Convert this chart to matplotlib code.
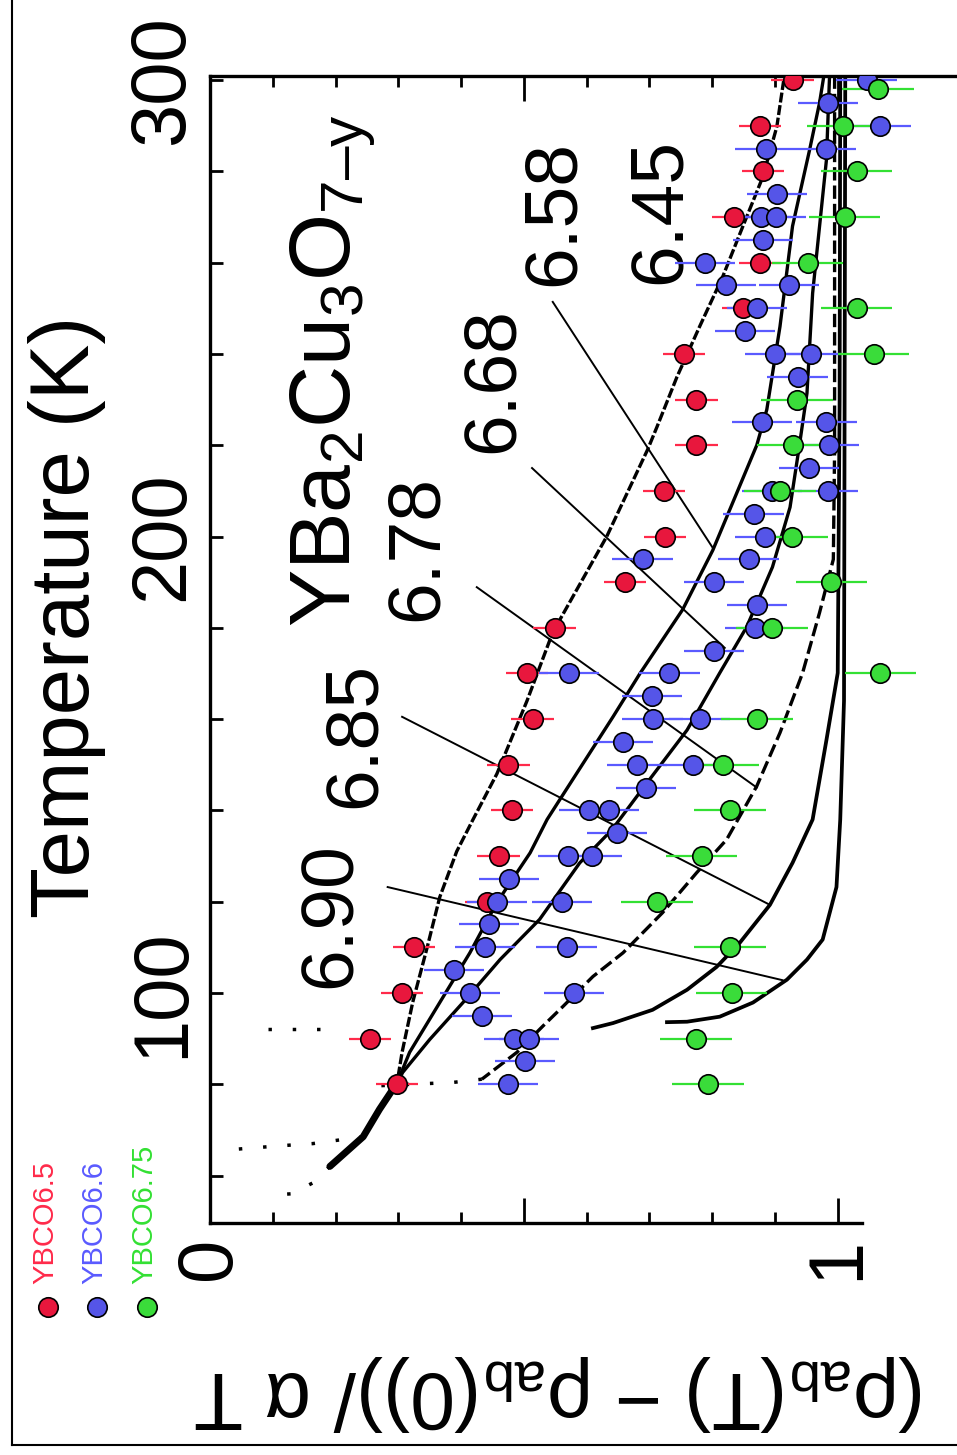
import numpy as np
import matplotlib
matplotlib.use("Agg")
import matplotlib.pyplot as plt

plt.rcParams['font.family'] = ['Liberation Sans', 'DejaVu Sans']
plt.rcParams['mathtext.fontset'] = 'custom'
plt.rcParams['mathtext.rm'] = 'Liberation Sans'
plt.rcParams['mathtext.it'] = 'Liberation Sans:italic'
plt.rcParams['mathtext.default'] = 'regular'

# measured points (value, temperature)
red_T = [300, 290, 280, 270, 260, 250, 240, 230, 220, 210, 200, 190, 180, 170,
         160, 150, 140, 130, 120, 110, 100, 90, 80]
red_v = [0.928, 0.876, 0.881, 0.834, 0.876, 0.849, 0.755, 0.775, 0.775, 0.723,
         0.725, 0.661, 0.549, 0.505, 0.514, 0.475, 0.481, 0.460, 0.441, 0.325,
         0.306, 0.255, 0.298]
red_err = 0.034

blue_T = [300, 295, 290, 285, 285, 275, 270, 270, 265, 260, 255, 255, 250, 245,
          240, 240, 235, 225, 225, 220, 215, 210, 210, 205, 200, 195, 195, 190,
          185, 180, 175, 170, 170, 165, 160, 160, 155, 150, 150, 145, 140, 140,
          135, 130, 130, 125, 120, 120, 115, 110, 110, 105, 100, 100, 95, 90, 90,
          85, 80]
blue_v = [1.046, 0.984, 1.068, 0.885, 0.981, 0.903, 0.877, 0.901, 0.881, 0.788,
          0.822, 0.922, 0.871, 0.852, 0.900, 0.957, 0.936, 0.879, 0.982, 0.986,
          0.954, 0.895, 0.984, 0.866, 0.884, 0.689, 0.858, 0.803, 0.871, 0.868,
          0.803, 0.572, 0.732, 0.704, 0.705, 0.780, 0.658, 0.680, 0.769, 0.694,
          0.604, 0.635, 0.648, 0.570, 0.608, 0.476, 0.457, 0.561, 0.444, 0.438,
          0.568, 0.389, 0.414, 0.580, 0.433, 0.484, 0.508, 0.502, 0.475]
blue_err = 0.048

green_T = [298, 290, 280, 270, 260, 250, 240, 230, 220, 210, 200, 190, 180, 170,
           160, 150, 140, 130, 120, 110, 100, 90, 80]
green_v = [1.064, 1.008, 1.030, 1.011, 0.952, 1.030, 1.057, 0.935, 0.928, 0.908,
           0.927, 0.990, 0.895, 1.068, 0.871, 0.817, 0.828, 0.783, 0.712, 0.828,
           0.831, 0.774, 0.793]
green_err = 0.057

# theory curves for each oxygen content
c645_v = [0.914, 0.903, 0.881, 0.849, 0.817, 0.780, 0.744, 0.712, 0.697, 0.632,
          0.546, 0.505, 0.457, 0.419, 0.393, 0.366, 0.346, 0.323, 0.306, 0.298]
c645_T = [300, 289.8, 278.9, 268, 257, 246, 235, 224, 219, 200, 179, 164, 148,
          138, 131, 121, 110, 98, 87, 80.3]
c658_v = [0.978, 0.971, 0.955, 0.928, 0.908, 0.887, 0.871, 0.801, 0.753, 0.685,
          0.642, 0.557, 0.537, 0.510, 0.457, 0.414, 0.366, 0.318, 0.298]
c658_T = [301, 295, 284.6, 268, 246, 227.8, 220, 197, 184, 170, 160.5, 142.3,
          138, 130.7, 119.8, 108.8, 97.9, 87, 80.3]
c668_v = [0.987, 0.982, 0.960, 0.951, 0.939, 0.924, 0.896, 0.855, 0.812, 0.760,
          0.696, 0.640, 0.589, 0.525, 0.462, 0.403, 0.350, 0.307, 0.298]
c668_T = [301, 282.5, 253.3, 231.4, 220, 206.4, 193.3, 180.2, 170.1, 157.6, 146,
          135.7, 128.5, 116.1, 107.3, 97.9, 89.8, 82.6, 80.3]
c678_v = [0.995, 0.995, 0.993, 0.971, 0.944, 0.908, 0.871, 0.823, 0.775, 0.721,
          0.658, 0.610, 0.562, 0.530, 0.489, 0.433]
c678_T = [301, 219, 195, 183.3, 170.1, 157, 145.3, 133.6, 126.3, 117.6, 108.8,
          103.6, 97, 92.7, 87, 81.1]
c685_v = [1.004, 1.003, 1.000, 0.982, 0.960, 0.928, 0.892, 0.844, 0.807, 0.760,
          0.705, 0.642, 0.610]
c685_T = [301, 229.8, 170.1, 155.4, 138, 128.5, 119.3, 111, 105.7, 100.7, 96.3,
          93.4, 92.3]
c690_v = [1.012, 1.010, 1.004, 0.998, 0.976, 0.951, 0.919, 0.865, 0.812, 0.760,
          0.728]
c690_T = [301, 164, 138, 123.2, 111.7, 107.3, 102.9, 97.9, 94.8, 93.7, 93.6]

# merged trunk below Tc and dotted low temperature tails
trunk_v = [0.298, 0.270, 0.244, 0.191]
trunk_T = [80.3, 74.5, 68.5, 62.0]
tail_a_v = [0.191, 0.164, 0.130, 0.096]
tail_a_T = [62.0, 58.4, 56.0, 55.7]
tail_b_v = [0.244, 0.164, 0.110, 0.027]
tail_b_T = [68.5, 67.0, 66.5, 65.6]
tail_678_v = [0.433, 0.387, 0.242]
tail_678_T = [81.1, 80.4, 79.5]
tail_685_v = [0.175, 0.092]
tail_685_T = [92.0, 92.0]

labels = ['6.90', '6.85', '6.78', '6.68', '6.58', '6.45']
label_v = [0.193, 0.232, 0.330, 0.452, 0.549, 0.717]
label_T = [117, 156.5, 197.5, 234.3, 270.9, 271.3]
# pointer lines from label to curve
ptr = {'6.90': ((0.283, 123.2), (0.912, 102.8)),
       '6.85': ((0.306, 160.5), (0.892, 119.3)),
       '6.78': ((0.425, 188.9), (0.871, 145.0)),
       '6.68': ((0.513, 215.0), (0.820, 175.6)),
       '6.58': ((0.546, 251.4), (0.801, 197.5))}

W, H = 957, 1455
fig = plt.figure(figsize=(W / 100, H / 100), dpi=100)
ax = fig.add_axes([210 / W, 1 - 1223 / H, (W - 210) / W, (1223 - 75.5) / H])

lw = 2.4
ax.plot(c645_v, c645_T, color='black', lw=lw, ls=(0, (3, 0.8)))
ax.plot(c658_v, c658_T, color='black', lw=lw)
ax.plot(c668_v, c668_T, color='black', lw=lw)
ax.plot(c678_v, c678_T, color='black', lw=lw, ls=(0, (4, 1.5)))
ax.plot(c685_v, c685_T, color='black', lw=lw + 0.3)
ax.plot(c690_v, c690_T, color='black', lw=lw + 0.3)
ax.plot(trunk_v, trunk_T, color='black', lw=5, solid_capstyle='round')
for tv, tT in [(tail_a_v, tail_a_T), (tail_b_v, tail_b_T),
               (tail_678_v, tail_678_T), (tail_685_v, tail_685_T)]:
    ax.plot(tv, tT, color='black', lw=2.5, ls=(0, (1, 6)))

for lab, v, t in zip(labels, label_v, label_T):
    ax.text(v, t, lab, rotation=90, ha='center', va='center', fontsize=54)
    if lab in ptr:
        (x0, y0), (x1, y1) = ptr[lab]
        ax.plot([x0, x1], [y0, y1], color='black', lw=1.4)

ax.text(0.196, 236.4, 'YBa$_2$Cu$_3$O$_{7\u2013y}$', rotation=90, ha='center',
        va='center', fontsize=62)

series = [(red_v, red_T, red_err, '#E8173D', '#FF2A4A'),
          (blue_v, blue_T, blue_err, '#5555E8', '#5A5AFF'),
          (green_v, green_T, green_err, '#3ADC3A', '#33E033')]
for v, t, e, fc, bc in series:
    ax.errorbar(v, t, xerr=e, fmt='o', ms=14, mfc=fc, mec='black', mew=1.2,
                ecolor=bc, elinewidth=1.6, capsize=0, zorder=5)

ax.set_xlim(0, 1.19)
ax.set_ylim(49.6, 301.0)
ax.set_xticks([0, 0.5, 1.0])
ax.set_xticklabels(['0', '', '1'])
ax.set_xticks([0.1, 0.2, 0.3, 0.4, 0.6, 0.7, 0.8, 0.9], minor=True)
ax.set_yticks([100, 200, 300])
ax.set_yticks([60, 80, 120, 140, 160, 180, 220, 240, 260, 280], minor=True)
ax.tick_params(axis='x', which='major', direction='in', length=18, width=2,
               top=True, bottom=True, labelsize=56, labelrotation=90, pad=10)
ax.tick_params(axis='x', which='minor', direction='in', length=8, width=2,
               top=True, bottom=True)
ax.tick_params(axis='y', which='both', direction='in', length=9, width=2,
               left=True, right=False, labelsize=56, labelrotation=90, pad=8)
for lbl in ax.get_yticklabels():
    lbl.set_verticalalignment('center')
for s in ['left', 'top', 'bottom']:
    ax.spines[s].set_linewidth(2.4)
ax.spines['right'].set_visible(False)
ax.spines['bottom'].set_bounds(0, 1.038)

fig.text(67 / W, 1 - 617 / H, 'Temperature (K)', rotation=90, ha='center',
         va='center', fontsize=60)
fig.text(560 / W, 1 - 1393 / H, r'($\rho_{ab}$(T) $-$ $\rho_{ab}$(0))/ $\alpha$ T',
         rotation=180, ha='center', va='center', fontsize=58)

# legend in the lower left corner
leg_names = ['YBCO6.5', 'YBCO6.6', 'YBCO6.75']
leg_fill = ['#E8173D', '#5555E8', '#3ADC3A']
leg_text = ['#FF2A4A', '#5A5AFF', '#33E033']
leg_x = [48, 97, 147]
for name, fc, tc, x in zip(leg_names, leg_fill, leg_text, leg_x):
    fig.lines.append(plt.Line2D([x / W], [1 - 1307 / H], marker='o', ms=14,
                                mfc=fc, mec='black', mew=1.2,
                                transform=fig.transFigure, figure=fig))
    fig.text((x - 3) / W, 1 - 1284 / H, name, rotation=90, ha='center',
             va='bottom', fontsize=21, color=tc)

# outer frame
fig.add_artist(plt.Line2D([12 / W, 12 / W], [10 / H, 1], color='black', lw=1.5))
fig.add_artist(plt.Line2D([12 / W, 1], [10 / H, 10 / H], color='black', lw=1.5))

fig.savefig('out.png', dpi=100)
